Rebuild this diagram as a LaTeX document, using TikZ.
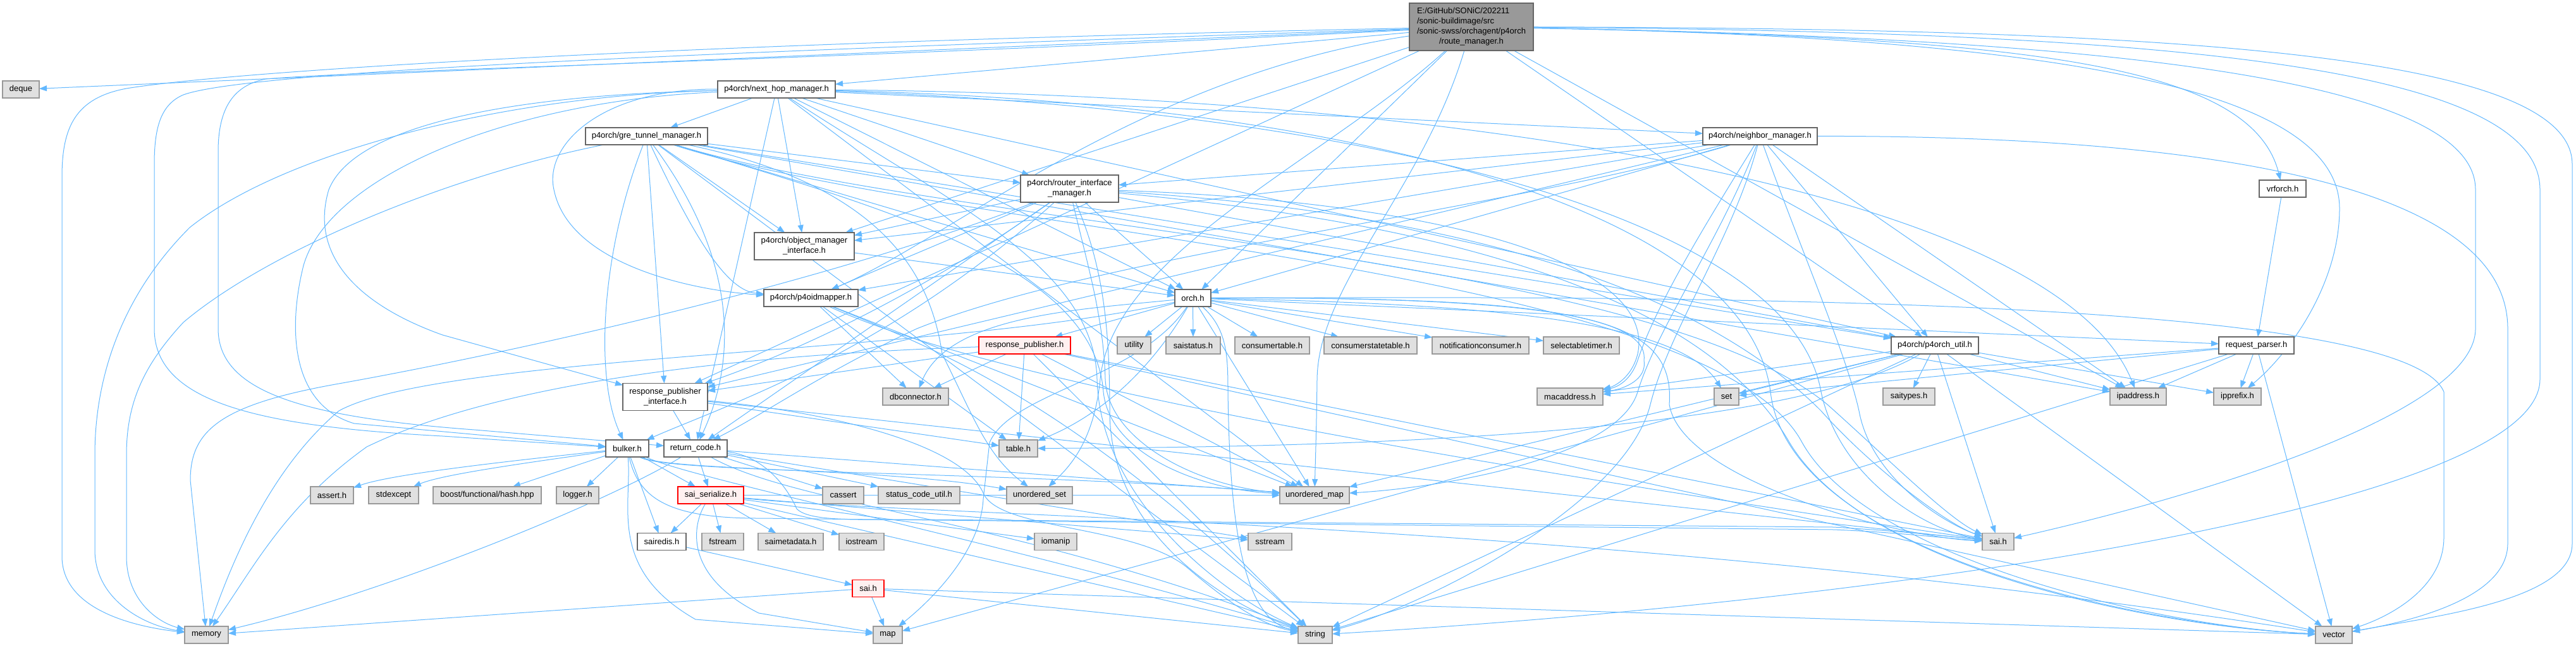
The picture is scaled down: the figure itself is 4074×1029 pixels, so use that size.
\documentclass[tikz,border=0pt]{standalone}
\usepackage{fontspec}
\setmainfont{Liberation Sans}
\usetikzlibrary{arrows.meta}
\pgfdeclarelayer{background}
\pgfsetlayers{background,main}
\definecolor{edgeblue}{HTML}{63B8FF}
\definecolor{extfill}{HTML}{E0E0E0}
\definecolor{extdraw}{HTML}{999999}
\definecolor{bord}{HTML}{666666}
\definecolor{rootfill}{HTML}{999999}
\definecolor{redfill}{HTML}{FFF0F0}
\definecolor{reddraw}{HTML}{FF0000}
\begin{document}
\begin{tikzpicture}[x=1pt,y=-1pt,
  every node/.style={font=\fontsize{13}{16}\selectfont, inner sep=0pt, outer sep=0pt},
  box/.style={draw=bord, fill=white, line width=1.3pt, minimum height=27pt},
  ext/.style={draw=extdraw, fill=extfill, line width=1.3pt, minimum height=27pt},
  redbox/.style={draw=reddraw, fill=redfill, line width=1.3pt, minimum height=27pt},
  rootbox/.style={draw=bord, fill=rootfill, line width=1.3pt},
  edg/.style={draw=edgeblue, line width=1pt, -{Triangle[length=12pt,width=9pt]}},
]
\useasboundingbox (0,0) rectangle (4074,1029);
% ---------------- nodes ----------------
\node[rootbox, minimum width=196pt, minimum height=75pt] (root) at (2327,42.5)
  {\begin{tabular}{@{}l@{}}E:/GitHub/SONiC/202211\\/sonic-buildimage/src\\/sonic-swss/orchagent/p4orch\\\multicolumn{1}{@{}c@{}}{/route\_manager.h}\end{tabular}};
\node[ext, minimum width=58pt] (deque) at (33,141.5) {deque};
\node[box, minimum width=186pt] (nhm) at (1228,141.5) {p4orch/next\_hop\_manager.h};
\node[box, minimum width=193pt] (gtm) at (1022.5,215.5) {p4orch/gre\_tunnel\_manager.h};
\node[box, minimum width=181pt] (nbm) at (2783.5,215.5) {p4orch/neighbor\_manager.h};
\node[box, minimum width=158pt, minimum height=43pt, align=center] (omi) at (1272,389.5) {p4orch/object\_manager\\\_interface.h};
\node[box, minimum width=149pt] (p4oid) at (1282.5,471.5) {p4orch/p4oidmapper.h};
\node[box, minimum width=155pt, minimum height=43pt, align=center] (rim) at (1691.5,298.5) {p4orch/router\_interface\\\_manager.h};
\node[box, minimum width=57pt] (orch) at (1886.5,471.5) {orch.h};
\node[box, minimum width=74pt] (vrf) at (3610,298.5) {vrforch.h};
\node[ext, minimum width=69pt] (memory) at (326.5,1004.5) {memory};
\node[ext, minimum width=68pt] (assert) at (525,783.5) {assert.h};
\node[ext, minimum width=79pt] (stdexcept) at (622.5,783.5) {stdexcept};
\node[box, minimum width=134pt, minimum height=43pt, align=center] (rpi) at (1052,628) {response\_publisher\\\_interface.h};
\node[box, minimum width=68pt] (bulker) at (992,709.5) {bulker.h};
\node[box, minimum width=100pt] (retc) at (1100,709.5) {return\_code.h};
\node[ext, minimum width=171pt] (boost) at (770.5,783.5) {boost/functional/hash.hpp};
\node[ext, minimum width=67pt] (logger) at (913.5,783.5) {logger.h};
\node[redbox, minimum width=104pt] (saiser) at (1124,783.5) {sai\_serialize.h};
\node[ext, minimum width=65pt] (cassert) at (1333.5,783.5) {cassert};
\node[box, minimum width=77pt] (sairedis) at (1046.5,857) {sairedis.h};
\node[ext, minimum width=66pt] (fstream) at (1143,857) {fstream};
\node[ext, minimum width=103pt] (saimeta) at (1250.5,857) {saimetadata.h};
\node[ext, minimum width=71pt] (iostream) at (1362.5,857) {iostream};
\node[redbox, minimum width=50pt] (saired) at (1373,931) {sai.h};
\node[redbox, minimum width=145pt] (rp) at (1620.5,546.5) {response\_publisher.h};
\node[ext, minimum width=53pt] (utility) at (1793.5,546.5) {utility};
\node[ext, minimum width=86pt] (saistatus) at (1887,546.5) {saistatus.h};
\node[ext, minimum width=118pt] (constab) at (2012,546.5) {consumertable.h};
\node[ext, minimum width=147pt] (consstab) at (2167.5,546.5) {consumerstatetable.h};
\node[ext, minimum width=153pt] (notif) at (2341.5,546.5) {notificationconsumer.h};
\node[ext, minimum width=120pt] (seltimer) at (2501,546.5) {selectabletimer.h};
\node[ext, minimum width=104pt] (dbconn) at (1448,627.5) {dbconnector.h};
\node[ext, minimum width=104pt] (mac) at (2483,627.5) {macaddress.h};
\node[ext, minimum width=39pt] (set) at (2730.5,627.5) {set};
\node[box, minimum width=138pt] (p4util) at (3060,546.5) {p4orch/p4orch\_util.h};
\node[ext, minimum width=82pt] (saitypes) at (3019,627.5) {saitypes.h};
\node[ext, minimum width=89pt] (ipaddr) at (3381.5,627.5) {ipaddress.h};
\node[ext, minimum width=75pt] (ipprefix) at (3538.5,627.5) {ipprefix.h};
\node[box, minimum width=119pt] (reqp) at (3568.5,546.5) {request\_parser.h};
\node[ext, minimum width=61pt] (table) at (1610.5,709.5) {table.h};
\node[ext, minimum width=129pt] (scu) at (1453.5,783.5) {status\_code\_util.h};
\node[ext, minimum width=104pt] (uset) at (1644,783.5) {unordered\_set};
\node[ext, minimum width=110pt] (umap) at (2079,783.5) {unordered\_map};
\node[ext, minimum width=67pt] (iomanip) at (1669.5,857) {iomanip};
\node[ext, minimum width=69pt] (sstream) at (2008.5,857) {sstream};
\node[ext, minimum width=50pt] (sai) at (3160,857) {sai.h};
\node[ext, minimum width=46pt] (map) at (1404,1004.5) {map};
\node[ext, minimum width=54pt] (string) at (2080,1004.5) {string};
\node[ext, minimum width=58pt] (vector) at (3691,1004.5) {vector};
% ---------------- edges ----------------
\begin{pgfonlayer}{background}
\foreach \s/\t in {root/deque, root/nhm, root/omi, root/rpi, root/orch, root/p4util, root/ipaddr,
  nhm/gtm, nhm/nbm, nhm/rim, nhm/omi, nhm/p4util, nhm/retc, nhm/orch, nhm/umap,
  gtm/rim, gtm/omi, gtm/p4util, gtm/rpi, gtm/orch, gtm/ipaddr, gtm/string,
  nbm/rim, nbm/omi, nbm/p4oid, nbm/p4util, nbm/rpi, nbm/orch, nbm/ipaddr,
  rim/omi, rim/p4oid, rim/p4util, rim/retc, rim/orch,
  omi/orch,
  p4oid/dbconn, p4oid/table, p4oid/umap,
  orch/utility, orch/umap, orch/saistatus, orch/constab, orch/consstab, orch/notif, orch/seltimer, orch/rp, orch/reqp,
  rp/rpi, rp/dbconn, rp/table, rp/umap, rp/string, rp/vector, rp/sai,
  rpi/retc, rpi/table, rpi/sai,
  retc/saiser, retc/cassert, retc/scu, retc/umap, retc/sstream,
  bulker/boost, bulker/logger, bulker/saiser, bulker/sairedis,
  saiser/sairedis, saiser/fstream, saiser/saimeta, saiser/iostream, saiser/iomanip, saiser/sstream, saiser/string, saiser/umap,
  sairedis/saired,
  saired/memory, saired/map, saired/string, saired/vector,
  p4util/set, p4util/saitypes, p4util/ipaddr, p4util/ipprefix, p4util/mac, p4util/string, p4util/vector, p4util/map, p4util/umap, p4util/sai,
  reqp/ipaddr, reqp/ipprefix, reqp/mac, reqp/set, reqp/string, reqp/vector,
  vrf/reqp}
  {\draw[edg] (\s) -- (\t);}
% ---- routed connectors, left part ----
\draw[edg] (root) .. controls (1000,70) and (350,115) .. (200,140) .. controls (120,155) and (98,200) .. (98,280) -- (98,880) .. controls (98,960) and (200,990) .. (memory);
\draw[edg] (root) .. controls (1200,80) and (400,110) .. (290,150) .. controls (255,165) and (244,200) .. (244,260) -- (244,520) .. controls (244,640) and (420,675) .. (700,690) -- (bulker);
\draw[edg] (root) .. controls (1300,95) and (600,110) .. (420,125) .. controls (370,135) and (345,170) .. (345,240) -- (345,520) .. controls (345,620) and (480,660) .. (750,680) -- (retc);
\draw[edg] (root) .. controls (1800,120) and (1500,380) .. (p4oid);
\draw[edg] (root) .. controls (2100,250) and (1760,400) .. (1740,600) .. controls (1730,700) and (1690,740) .. (uset);
\draw[edg] (root) .. controls (2250,300) and (2085,450) .. (2083,600) .. controls (2082,680) and (2080,740) .. (umap);
\draw[edg] (nhm) .. controls (950,140) and (860,230) .. (876,300) .. controls (900,420) and (1100,460) .. (p4oid);
\draw[edg] (nhm) .. controls (800,150) and (450,240) .. (300,360) .. controls (190,470) and (150,600) .. (150,720) -- (150,870) .. controls (150,950) and (230,990) .. (memory);
\draw[edg] (nhm) .. controls (800,160) and (520,280) .. (480,420) .. controls (455,520) and (460,640) .. (560,670) -- (bulker);
\draw[edg] (nhm) .. controls (800,150) and (560,200) .. (520,300) .. controls (490,400) and (560,480) .. (700,530) -- (rpi);
\draw[edg] (nhm) .. controls (1500,320) and (1730,420) .. (1735,600) .. controls (1740,800) and (1950,950) .. (string);
\draw[edg] (gtm) .. controls (700,280) and (420,400) .. (290,510) .. controls (225,580) and (200,640) .. (200,720) -- (200,880) .. controls (200,950) and (250,985) .. (memory);
\draw[edg] (gtm) .. controls (1100,380) and (1150,460) .. (p4oid);
\draw[edg] (gtm) .. controls (1160,400) and (1170,560) .. (retc);
\draw[edg] (gtm) .. controls (950,400) and (940,600) .. (bulker);
\draw[edg] (gtm) .. controls (1400,330) and (1730,420) .. (1745,620) .. controls (1755,720) and (1900,775) .. (umap);
\draw[edg] (gtm) .. controls (1380,290) and (1470,420) .. (1490,560) .. controls (1540,660) and (1560,720) .. (uset);
\draw[edg] (nbm) .. controls (2400,330) and (1750,400) .. (1450,520) .. controls (1300,590) and (1200,660) .. (retc);
\draw[edg] (rim) .. controls (1300,450) and (800,560) .. (536,607) .. controls (350,640) and (301,680) .. (301,760) -- (memory);
\draw[edg] (rim) .. controls (1450,470) and (1250,560) .. (rpi);
\draw[edg] (rim) .. controls (1400,560) and (1150,640) .. (bulker);
\draw[edg] (rim) .. controls (1720,420) and (1745,500) .. (1748,600) .. controls (1752,700) and (1900,770) .. (umap);
\draw[edg] (rim) .. controls (1745,420) and (1755,520) .. (1755,650) .. controls (1755,850) and (1950,960) .. (string);
\draw[edg] (orch) .. controls (1500,560) and (700,560) .. (536,650) .. controls (430,740) and (370,880) .. (memory);
\draw[edg] (orch) .. controls (1800,600) and (1600,620) .. (1565,700) -- (1555,790) .. controls (1550,880) and (1460,960) .. (map);
\draw[edg] (orch) .. controls (1700,490) and (1500,500) .. (dbconn);
\draw[edg] (orch) .. controls (1835,560) and (1760,650) .. (table);
\draw[edg] (orch) .. controls (1940,520) and (1942,560) .. (1942,620) .. controls (1945,850) and (1970,980) .. (string);
\draw[edg] (p4oid) .. controls (1500,560) and (1700,640) .. (string);
\draw[edg] (p4oid) .. controls (1600,620) and (2500,760) .. (sai);
\draw[edg] (rp) .. controls (1200,560) and (800,600) .. (580,707) .. controls (450,800) and (400,900) .. (memory);
\draw[edg] (rpi) .. controls (1300,650) and (1520,700) .. (1555,780) .. controls (1580,840) and (1800,830) .. (1880,900) .. controls (1950,960) and (2000,990) .. (string);
\draw[edg] (retc) .. controls (950,800) and (600,940) .. (memory);
\draw[edg] (retc) .. controls (1260,800) and (1600,820) .. (string);
\draw[edg] (retc) .. controls (1200,720) and (1240,760) .. (1260,805) .. controls (1280,825) and (1350,822) .. (1450,822) -- (2900,834) .. controls (3000,840) and (3080,848) .. (sai);
\draw[edg] (bulker) .. controls (1010,790) and (1060,820) .. (1200,820) -- (2900,838) .. controls (3000,842) and (3080,852) .. (sai);
\draw[edg] (bulker) .. controls (1050,745) and (1400,740) .. (uset);
\draw[edg] (bulker) .. controls (1050,750) and (1600,745) .. (umap);
\draw[edg] (bulker) .. controls (1100,760) and (1600,860) .. (string);
\draw[edg] (bulker) .. controls (1000,800) and (960,900) .. (1100,980) -- (map);
\draw[edg] (bulker) .. controls (800,730) and (620,750) .. (assert);
\draw[edg] (bulker) .. controls (850,730) and (700,750) .. (stdexcept);
\draw[edg] (saiser) .. controls (1500,820) and (2500,820) .. (vector);
\draw[edg] (saiser) .. controls (1095,830) and (1080,910) .. (1200,970) -- (map);
% ---- routed connectors, right part ----
\draw[edg] (root) .. controls (3200,60) and (3560,100) .. (vrf);
\draw[edg] (root) .. controls (3300,60) and (3700,150) .. (3700,330) .. controls (3700,450) and (3620,560) .. (ipprefix);
\draw[edg] (root) .. controls (3300,60) and (3915,120) .. (3915,300) -- (3915,520) .. controls (3915,650) and (3500,780) .. (sai);
\draw[edg] (root) .. controls (3400,50) and (4017,100) .. (4017,300) -- (4017,600) .. controls (4017,800) and (3000,950) .. (string);
\draw[edg] (root) .. controls (3400,45) and (4068,80) .. (4068,260) -- (4068,860) .. controls (4068,950) and (3850,975) .. (vector);
\draw[edg] (nhm) .. controls (2100,160) and (2760,320) .. (2800,620) .. controls (2830,880) and (3400,990) .. (vector);
\draw[edg] (nhm) .. controls (2100,170) and (2830,330) .. (2880,620) .. controls (2910,760) and (3050,840) .. (sai);
\draw[edg] (nhm) .. controls (2300,150) and (3250,300) .. (ipaddr);
\draw[edg] (gtm) .. controls (1500,360) and (2600,400) .. (2890,640) .. controls (2980,720) and (3080,820) .. (sai);
\draw[edg] (gtm) .. controls (1500,370) and (2700,420) .. (2850,700) .. controls (2950,880) and (3400,990) .. (vector);
\draw[edg] (nbm) .. controls (3300,215) and (3966,250) .. (3966,520) -- (3966,860) .. controls (3966,950) and (3800,985) .. (vector);
\draw[edg] (nbm) .. controls (2740,380) and (2640,520) .. (2610,640) .. controls (2570,800) and (2250,960) .. (string);
\draw[edg] (nbm) .. controls (2720,380) and (2620,520) .. (2590,620) .. controls (2560,720) and (2300,770) .. (umap);
\draw[edg] (nbm) .. controls (2850,400) and (2920,560) .. (2940,650) .. controls (2960,760) and (3080,830) .. (sai);
\draw[edg] (nbm) .. controls (2700,350) and (2620,480) .. (2590,570) .. controls (2580,600) and (2560,612) .. (mac);
\draw[edg] (rim) .. controls (2200,330) and (2650,420) .. (2880,650) .. controls (2960,740) and (3080,830) .. (sai);
\draw[edg] (rim) .. controls (2200,345) and (2680,440) .. (2830,700) .. controls (2950,900) and (3400,990) .. (vector);
\draw[edg] (rim) .. controls (2300,320) and (2620,420) .. (2590,560) .. controls (2580,600) and (2550,612) .. (mac);
\draw[edg] (orch) .. controls (2500,470) and (3800,460) .. (3865,620) -- (3865,850) .. controls (3865,930) and (3780,975) .. (vector);
\draw[edg] (orch) .. controls (2500,470) and (2650,500) .. (2640,640) .. controls (2660,760) and (3000,850) .. (sai);
\draw[edg] (orch) .. controls (2300,480) and (2650,500) .. (set);
\draw[edg] (orch) .. controls (2350,470) and (2610,490) .. (2600,570) .. controls (2605,600) and (2570,615) .. (mac);
\draw[edg] (p4util) .. controls (2800,700) and (2000,708) .. (table);
\end{pgfonlayer}
\end{tikzpicture}
\end{document}
